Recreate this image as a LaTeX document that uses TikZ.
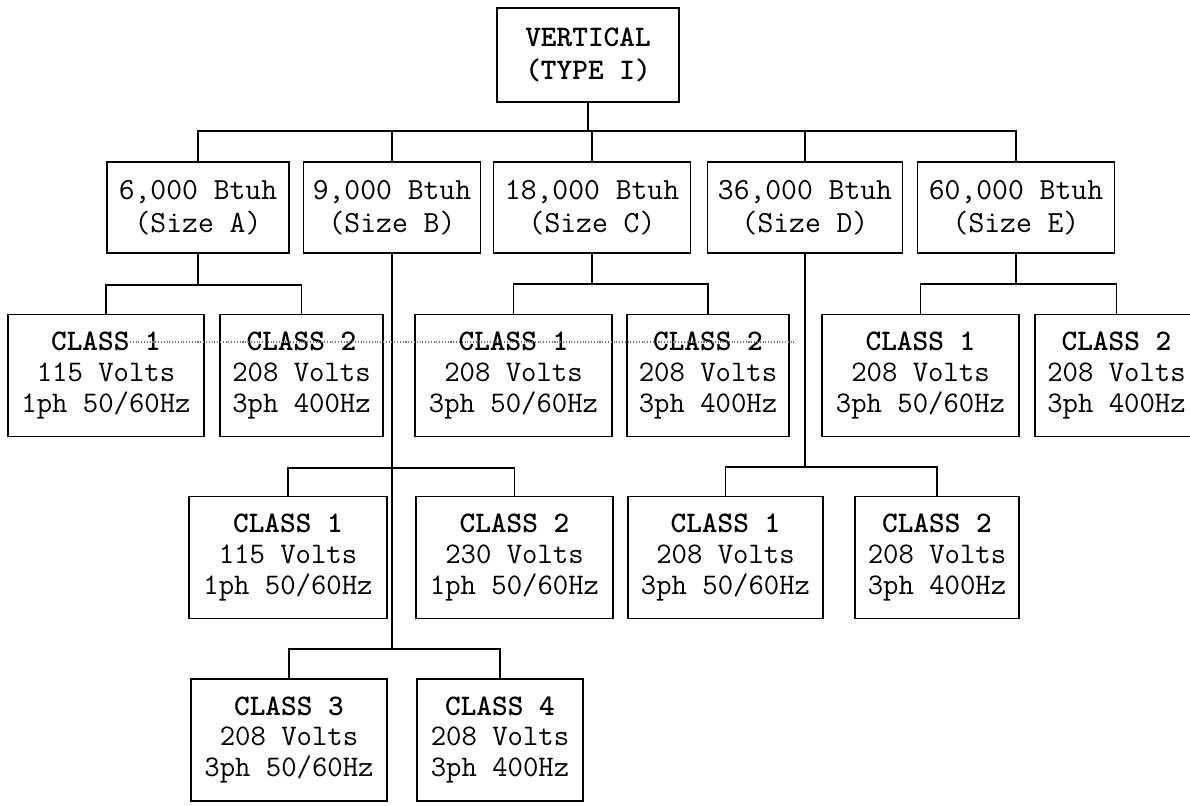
\documentclass[tikz,border=0pt]{standalone}
\usepackage{tikz}
\usetikzlibrary{positioning}

\tikzset{
    unitbox/.style={draw, line width=1.1pt, align=center, inner sep=0pt,
        font=\ttfamily\fontsize{17}{17.5}\selectfont},
    typebox/.style={unitbox, minimum height=1.88cm,
        font=\ttfamily\bfseries\fontsize{17}{19}\selectfont},
    sizebox/.style={unitbox, minimum height=1.82cm,
        font=\ttfamily\fontsize{17.5}{19}\selectfont},
    classbox/.style={unitbox, minimum height=2.44cm},
    link/.style={line width=1.1pt},
    scanline/.style={densely dotted, line width=0.6pt, black!55}
}

\begin{document}
\begin{tikzpicture}[x=0.02cm, y=-0.02cm]
    \useasboundingbox (0,0) rectangle (1190,805);

    % Top box
    \node[typebox, minimum width=3.64cm] (top) at (588,55) {VERTICAL\\(TYPE I)};

    % Sizes
    \node[sizebox, minimum width=3.64cm] (A) at (198,207.5) {6,000 Btuh\\(Size A)};
    \node[sizebox, minimum width=3.54cm] (B) at (392,207.5) {9,000 Btuh\\(Size B)};
    \node[sizebox, minimum width=3.94cm] (C) at (592,207.5) {18,000 Btuh\\(Size C)};
    \node[sizebox, minimum width=3.90cm] (D) at (805,207.5) {36,000 Btuh\\(Size D)};
    \node[sizebox, minimum width=3.94cm] (E) at (1016,207.5) {60,000 Btuh\\(Size E)};

    % Classes, first row
    \node[classbox, minimum width=3.92cm] (A1) at (106,375.5) {\textbf{CLASS 1}\\115 Volts\\1ph 50/60Hz};
    \node[classbox, minimum width=3.26cm] (A2) at (301.5,375.5) {\textbf{CLASS 2}\\208 Volts\\3ph 400Hz};
    \node[classbox, minimum width=3.94cm] (C1) at (513.5,375.5) {\textbf{CLASS 1}\\208 Volts\\3ph 50/60Hz};
    \node[classbox, minimum width=3.24cm] (C2) at (708,375.5) {\textbf{CLASS 2}\\208 Volts\\3ph 400Hz};
    \node[classbox, minimum width=3.94cm] (E1) at (920.5,375.5) {\textbf{CLASS 1}\\208 Volts\\3ph 50/60Hz};
    \node[classbox, minimum width=3.26cm] (E2) at (1116.5,375.5) {\textbf{CLASS 2}\\208 Volts\\3ph 400Hz};

    % Classes, second row
    \node[classbox, minimum width=3.96cm] (B1) at (288,557.5) {\textbf{CLASS 1}\\115 Volts\\1ph 50/60Hz};
    \node[classbox, minimum width=3.94cm] (B2) at (514.5,557.5) {\textbf{CLASS 2}\\230 Volts\\1ph 50/60Hz};
    \node[classbox, minimum width=3.90cm] (D1) at (725.5,557.5) {\textbf{CLASS 1}\\208 Volts\\3ph 50/60Hz};
    \node[classbox, minimum width=3.28cm] (D2) at (937,557.5) {\textbf{CLASS 2}\\208 Volts\\3ph 400Hz};

    % Classes, third row
    \node[classbox, minimum width=3.92cm] (B3) at (289,740) {\textbf{CLASS 3}\\208 Volts\\3ph 50/60Hz};
    \node[classbox, minimum width=3.32cm] (B4) at (500,740) {\textbf{CLASS 4}\\208 Volts\\3ph 400Hz};

    % Junctions
    \coordinate (j0) at (588,131);
    \coordinate (jA) at (198,285);
    \coordinate (jC) at (592,284);
    \coordinate (jE) at (1016,284);
    \coordinate (jB) at (392,468);
    \coordinate (jBB) at (392,649);
    \coordinate (jD) at (805,467);

    % Connectors
    \draw[link] (top) -- (j0);
    \draw[link] (A) |- (j0) -| (E);
    \draw[link] (B) -- (B |- j0);
    \draw[link] (C) -- (C |- j0);
    \draw[link] (D) -- (D |- j0);

    \draw[link] (A) -- (jA);
    \draw[link] (A1) |- (jA) -| (A2);
    \draw[link] (C) -- (jC);
    \draw[link] (C1) |- (jC) -| (C2);
    \draw[link] (E) -- (jE);
    \draw[link] (E1) |- (jE) -| (E2);

    \draw[link] (B) -- (jBB);
    \draw[link] (B1) |- (jB) -| (B2);
    \draw[link] (B3) |- (jBB) -| (B4);
    \draw[link] (D) -- (jD);
    \draw[link] (D1) |- (jD) -| (D2);

    % Dotted mark across the first row
    \draw[scanline] (130,342) -- (795,342);
\end{tikzpicture}
\end{document}
